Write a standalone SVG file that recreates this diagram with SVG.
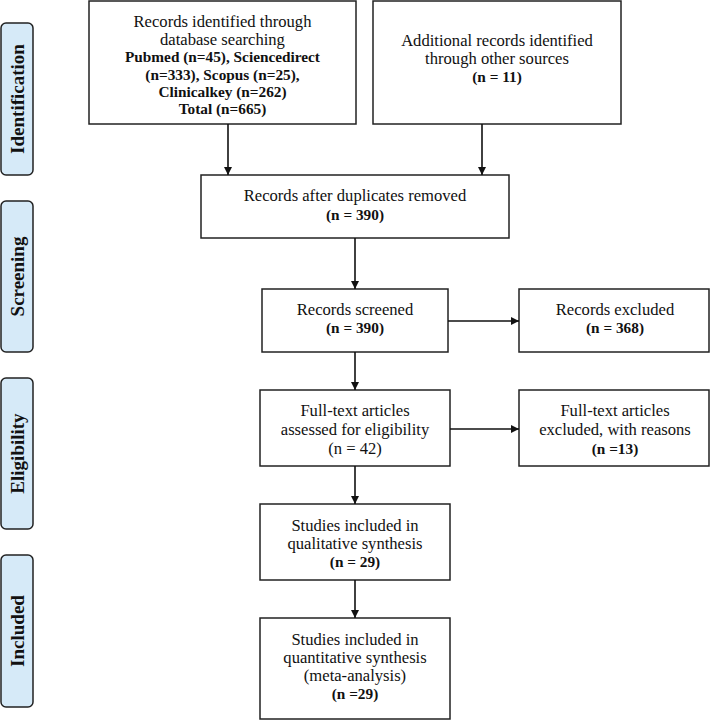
<svg xmlns="http://www.w3.org/2000/svg" width="710" height="720" viewBox="0 0 710 720">
<defs>
<marker id="ah" viewBox="0 0 10 10" refX="10" refY="5" markerWidth="8" markerHeight="8" markerUnits="userSpaceOnUse" orient="auto">
<path d="M0,0 L10,5 L0,10 z" fill="#111"/>
</marker>
<style>
.box{fill:#fff;stroke:#222;stroke-width:1.5}
.lab{fill:#d6eaf8;stroke:#222;stroke-width:1.5}
text{font-family:"Liberation Serif","Times New Roman",serif;font-size:16.6px;fill:#111;text-anchor:middle}
.b{font-weight:bold;font-size:15.3px}
.side{font-weight:bold;font-size:19px}
.con{stroke:#111;stroke-width:1.6;fill:none;marker-end:url(#ah)}
</style>
</defs>
<rect width="710" height="720" fill="#fff"/>
<g id="label-identification"><rect class="lab" x="1" y="23" width="32" height="152" rx="5"/><text class="side" transform="translate(17.5,99) rotate(-90)" y="6.5">Identification</text></g>
<g id="label-screening"><rect class="lab" x="1" y="201" width="32" height="151" rx="5"/><text class="side" transform="translate(17.5,276.5) rotate(-90)" y="6.5">Screening</text></g>
<g id="label-eligibility"><rect class="lab" x="1" y="378" width="32" height="151" rx="5"/><text class="side" transform="translate(17.5,453.5) rotate(-90)" y="6.5">Eligibility</text></g>
<g id="label-included"><rect class="lab" x="1" y="555" width="32" height="152" rx="5"/><text class="side" transform="translate(17.5,631) rotate(-90)" y="6.5">Included</text></g>

<g id="box-database"><rect class="box" x="89" y="1" width="267" height="123"/>
<text x="222.5" y="27">Records identified through</text>
<text x="222.5" y="45">database searching</text>
<text class="b" x="222.5" y="62">Pubmed (n=45), Sciencedirect</text>
<text class="b" x="222.5" y="79.5">(n=333), Scopus (n=25),</text>
<text class="b" x="222.5" y="96.5">Clinicalkey (n=262)</text>
<text class="b" x="222.5" y="113.5">Total (n=665)</text></g>

<g id="box-additional"><rect class="box" x="373" y="1" width="248" height="123"/>
<text x="497" y="45.5">Additional records identified</text>
<text x="497" y="63.5">through other sources</text>
<text class="b" x="497" y="82">(n = 11)</text></g>

<g id="box-duplicates"><rect class="box" x="201" y="175" width="308" height="63"/>
<text x="355" y="201">Records after duplicates removed</text>
<text class="b" x="355" y="219.5">(n = 390)</text></g>

<g id="box-screened"><rect class="box" x="262" y="289" width="186" height="63"/>
<text x="355" y="314.5">Records screened</text>
<text class="b" x="355" y="333">(n = 390)</text></g>

<g id="box-excluded"><rect class="box" x="519" y="289" width="190" height="63"/>
<text x="615" y="314.5">Records excluded</text>
<text class="b" x="615" y="333">(n = 368)</text></g>

<g id="box-fulltext"><rect class="box" x="260" y="390" width="190" height="76"/>
<text x="355" y="416">Full-text articles</text>
<text x="355" y="434.5">assessed for eligibility</text>
<text x="355" y="454">(n = 42)</text></g>

<g id="box-fulltext-excluded"><rect class="box" x="519" y="390" width="190" height="76"/>
<text x="615" y="416">Full-text articles</text>
<text x="615" y="434.5">excluded, with reasons</text>
<text class="b" x="615" y="454">(n =13)</text></g>

<g id="box-qualitative"><rect class="box" x="260" y="504" width="190" height="76"/>
<text x="355" y="530.5">Studies included in</text>
<text x="355" y="549">qualitative synthesis</text>
<text class="b" x="355" y="567">(n = 29)</text></g>

<g id="box-quantitative"><rect class="box" x="260" y="618" width="190" height="101"/>
<text x="355" y="645">Studies included in</text>
<text x="355" y="663">quantitative synthesis</text>
<text x="355" y="680.5">(meta-analysis)</text>
<text class="b" x="355" y="699">(n =29)</text></g>

<g id="connectors">
<line class="con" x1="228" y1="124" x2="228" y2="175"/>
<line class="con" x1="482" y1="124" x2="482" y2="175"/>
<line class="con" x1="355" y1="238" x2="355" y2="289"/>
<line class="con" x1="448" y1="321" x2="519" y2="321"/>
<line class="con" x1="355" y1="352" x2="355" y2="390"/>
<line class="con" x1="450" y1="429" x2="519" y2="429"/>
<line class="con" x1="355" y1="466" x2="355" y2="504"/>
<line class="con" x1="355" y1="580" x2="355" y2="618"/>
</g>
</svg>
